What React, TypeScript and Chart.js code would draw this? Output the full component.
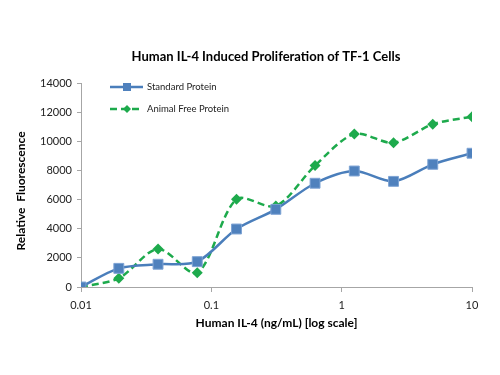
import React, { useEffect, useRef } from "react";
import { Chart, registerables } from "chart.js";

Chart.register(...registerables);

const concentrations = [0.01, 0.0195, 0.039, 0.078, 0.156, 0.3125, 0.625, 1.25, 2.5, 5, 10];
const standardProtein = [0, 1280, 1560, 1740, 3980, 5330, 7120, 7960, 7250, 8420, 9180];
const animalFreeProtein = [0, 600, 2610, 980, 6020, 5560, 8330, 10500, 9900, 11170, 11690];
const xTickValues = [0.01, 0.1, 1, 10];
const xTickLabels = ["0.01", "0.1", "1", "10"];
const seriesNames = ["Standard Protein", "Animal Free Protein"];
const titleText = "Human IL-4 Induced Proliferation of TF-1 Cells";
const xTitle = "Human IL-4 (ng/mL) [log scale]";
const yTitle = "Relative  Fluorescence";

const BLUE = "#4A7EBB";
const GREEN = "#1DAA4C";
const FONT = "Lato, 'Open Sans', sans-serif";

const overlayPlugin = {
  id: "overlay",
  beforeDraw(chart: any) {
    const ctx = chart.ctx;
    ctx.save();
    ctx.fillStyle = "#ffffff";
    ctx.fillRect(0, 0, chart.width, chart.height);
    ctx.restore();
  },
  afterDraw(chart: any) {
    const ctx = chart.ctx;
    ctx.save();
    ctx.fillStyle = "#000";
    ctx.font = `bold 13px ${FONT}`;
    ctx.textAlign = "center";
    ctx.textBaseline = "middle";
    ctx.fillText(titleText, 266, 57);

    // y axis title
    ctx.save();
    ctx.translate(21, 191);
    ctx.rotate(-Math.PI / 2);
    ctx.font = `bold 12px ${FONT}`;
    ctx.fillText(yTitle, 0, 0);
    ctx.restore();

    // legend
    const entries = [
      { y: 87, ds: chart.data.datasets[0] },
      { y: 109, ds: chart.data.datasets[1] },
    ];
    entries.forEach((e) => {
      const ds: any = e.ds;
      ctx.save();
      ctx.strokeStyle = ds.borderColor;
      ctx.lineWidth = ds.borderWidth;
      ctx.setLineDash(ds.borderDash || []);
      ctx.beginPath();
      ctx.moveTo(110, e.y);
      ctx.lineTo(143, e.y);
      ctx.stroke();
      ctx.setLineDash([]);
      ctx.fillStyle = ds.pointBackgroundColor;
      ctx.beginPath();
      if (ds.pointStyle === "rect") {
        ctx.rect(123, e.y - 4, 8, 8);
      } else {
        ctx.moveTo(127, e.y - 4);
        ctx.lineTo(131, e.y);
        ctx.lineTo(127, e.y + 4);
        ctx.lineTo(123, e.y);
        ctx.closePath();
      }
      ctx.fill();
      ctx.restore();
      ctx.fillStyle = "#222";
      ctx.font = `9.5px ${FONT}`;
      ctx.textAlign = "left";
      ctx.textBaseline = "middle";
      ctx.fillText(ds.label, 147, e.y);
    });
    ctx.restore();
  },
};

export default function App() {
  const ref = useRef<HTMLCanvasElement>(null);
  useEffect(() => {
    if (!ref.current) return;
    const chart = new Chart(ref.current, {
      type: "line",
      data: {
        datasets: [
          {
            label: seriesNames[0],
            data: concentrations.map((x, i) => ({ x, y: standardProtein[i] })),
            borderColor: BLUE,
            backgroundColor: BLUE,
            borderWidth: 2.5,
            pointStyle: "rect",
            pointRadius: 7,
            pointBackgroundColor: "#4F81BD",
            pointBorderColor: "#7DA3D4",
            pointBorderWidth: 1,
            tension: 0.3,
          },
          {
            label: seriesNames[1],
            data: concentrations.map((x, i) => ({ x, y: animalFreeProtein[i] })),
            borderColor: GREEN,
            backgroundColor: GREEN,
            borderWidth: 2.5,
            borderDash: [7, 4],
            pointStyle: "rectRot",
            pointRadius: 5.5,
            pointBackgroundColor: GREEN,
            pointBorderColor: GREEN,
            pointBorderWidth: 0,
            tension: 0.3,
          },
        ],
      } as any,
      options: {
        responsive: false,
        animation: false,
        layout: { padding: { top: 83, right: 28, bottom: 0, left: 0 } },
        plugins: {
          legend: { display: false },
          title: { display: false },
          tooltip: { enabled: false },
        },
        scales: {
          x: {
            type: "logarithmic",
            min: 0.01,
            max: 10,
            afterBuildTicks: (scale: any) => {
              scale.ticks = xTickValues.map((v) => ({ value: v }));
            },
            afterFit: (scale: any) => {
              scale.height = 88;
            },
            ticks: {
              autoSkip: false,
              maxRotation: 0,
              padding: 7,
              color: "#222",
              font: { family: FONT, size: 11 },
              callback: (v: any) => {
                const i = xTickValues.indexOf(Number(v));
                return i >= 0 ? xTickLabels[i] : "";
              },
            },
            grid: { drawOnChartArea: false, drawTicks: true, tickLength: 5, color: "#A6A6A6" },
            border: { display: true, color: "#A6A6A6", width: 1 },
            title: {
              display: true,
              text: xTitle,
              color: "#000",
              font: { family: FONT, size: 12, weight: "bold" },
              padding: { top: 0, bottom: 44.8 },
            },
          },
          y: {
            type: "linear",
            min: 0,
            max: 14000,
            afterFit: (scale: any) => {
              scale.width = 81;
            },
            ticks: {
              stepSize: 2000,
              padding: 5,
              color: "#222",
              font: { family: FONT, size: 11 },
              callback: (v: any) => String(v),
            },
            grid: { drawOnChartArea: false, drawTicks: true, tickLength: 4, color: "#A6A6A6" },
            border: { display: true, color: "#A6A6A6", width: 1 },
            title: { display: false },
          },
        },
      } as any,
      plugins: [overlayPlugin],
    });
    return () => chart.destroy();
  }, []);
  return (
    <div style={{ position: "fixed", left: 0, top: 0, width: 500, height: 375, background: "#fff" }}>
      <canvas ref={ref} width={500} height={375} style={{ width: 500, height: 375 }} />
    </div>
  );
}
